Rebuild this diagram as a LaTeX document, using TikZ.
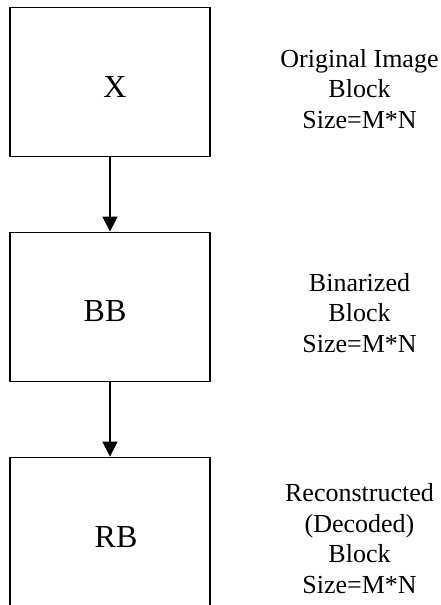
\documentclass[tikz,border=0pt]{standalone}
\usepackage{fontspec}
\setmainfont{Liberation Serif}
\usetikzlibrary{arrows.meta}
\tikzset{
  blk/.style={rectangle,draw=black,line width=1.4pt,minimum width=200pt,minimum height=149.4pt,inner sep=0pt},
  big/.style={font=\fontsize{32}{36}\selectfont,inner sep=0pt,anchor=base},
  note/.style={font=\fontsize{26}{30.5}\selectfont,align=center,inner sep=0pt,anchor=base},
  flow/.style={-{Triangle[length=15pt,width=15pt]},line width=1.4pt,draw=black},
}
\begin{document}
\begin{tikzpicture}[x=1pt,y=-1pt]
\useasboundingbox (0,0) rectangle (441,605);
% the three blocks, one under the other
\node[blk] (x) at (110,82) {};
\node[blk] (bb) at (110,307) {};
\node[blk] (rb) at (110,532) {};
\node[big] at (115,97) {X};
\node[big] at (105,321) {BB};
\node[big] at (116,547) {RB};
\draw[flow] (x.south) -- (bb.north);
\draw[flow] (bb.south) -- (rb.north);
% what each block holds (base = last line)
\node[note] (xc) at (359.5,128) {Original Image\\Block\\Size=M*N};
\node[note] (bbc) at (359.5,352) {Binarized\\Block\\Size=M*N};
\node[note] (rbc) at (359.5,593) {Reconstructed\\(Decoded)\\Block\\Size=M*N};
\end{tikzpicture}
\end{document}
